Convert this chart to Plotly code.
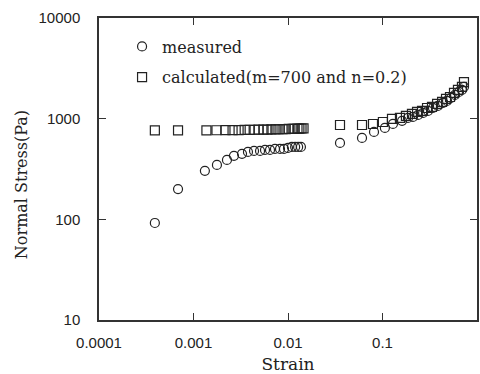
import plotly.graph_objects as go

# measured (circles)
meas_strain = [0.00039, 0.000686, 0.00132, 0.00177, 0.00226, 0.00268, 0.00326, 0.00377,
               0.00437, 0.00506, 0.00571, 0.00645, 0.00728, 0.00823, 0.00907, 0.0100,
               0.0110, 0.0119, 0.0128, 0.0137,
               0.0355, 0.0607, 0.0813, 0.106, 0.129, 0.161, 0.186, 0.210, 0.238, 0.269,
               0.303, 0.342, 0.386, 0.437, 0.482, 0.531, 0.585, 0.645, 0.693, 0.728]
meas_stress = [92, 200, 303, 347, 389, 427, 447, 467,
               478, 478, 489, 489, 500, 500, 500, 512,
               524, 524, 524, 524,
               574, 643, 738, 809, 887, 951, 1017, 1041, 1090, 1141,
               1194, 1277, 1337, 1433, 1500, 1607, 1720, 1842, 1928, 2065]

# calculated (squares)
calc_strain = [0.00039, 0.000686, 0.00137, 0.00175, 0.00218, 0.00259, 0.00300, 0.00348,
               0.00393, 0.00443, 0.00488, 0.00551, 0.00607, 0.00668, 0.00736, 0.00793,
               0.00875, 0.00943, 0.0102, 0.0112, 0.0117, 0.0126, 0.0132, 0.0139, 0.0146,
               0.0355, 0.0607, 0.0793, 0.101, 0.126, 0.153, 0.177, 0.205, 0.232, 0.262,
               0.296, 0.334, 0.378, 0.427, 0.470, 0.518, 0.571, 0.629, 0.693, 0.728]
calc_stress = [765, 765, 765, 767, 768, 770, 771, 773,
               774, 776, 777, 779, 780, 782, 783, 785,
               786, 788, 790, 792, 793, 795, 797, 799, 801,
               865, 865, 885, 927, 993, 1016, 1064, 1115, 1167, 1193,
               1277, 1307, 1400, 1465, 1570, 1641, 1800, 1928, 2065, 2311]

x_ticks = [0.0001, 0.001, 0.01, 0.1, 1]
x_tick_text = ["0.0001", "0.001", "0.01", "0.1", "1"]
y_ticks = [10, 100, 1000, 10000]
y_tick_text = ["10", "100", "1000", "10000"]

ink = "#222222"
fig = go.Figure()
fig.add_trace(go.Scatter(
    x=meas_strain, y=meas_stress, mode="markers", name="measured", legendgroup="a",
    marker=dict(symbol="circle-open", size=9, color=ink, line=dict(width=1.2, color=ink)),
))
fig.add_trace(go.Scatter(
    x=calc_strain, y=calc_stress, mode="markers", name="calculated(m=700 and n=0.2)",
    legendgroup="b",
    marker=dict(symbol="square-open", size=9, color=ink, line=dict(width=1.2, color=ink)),
))

axis_common = dict(
    type="log", showgrid=False, zeroline=False, showline=True, linecolor="#333333",
    linewidth=1.5, mirror="ticks", ticks="inside", ticklen=7, tickwidth=1.2,
    tickcolor="#333333",
    tickfont=dict(family="Liberation Sans, Arial, sans-serif", size=15, color="#222222"),
)

fig.update_xaxes(
    **axis_common, range=[-4, 0], tickmode="array", tickvals=x_ticks, ticktext=x_tick_text,
    ticklabelstandoff=8,
    title=dict(text="Strain", standoff=8,
               font=dict(family="DejaVu Serif, serif", size=17, color="#222222")),
)
fig.update_yaxes(
    **axis_common, range=[1, 4], tickmode="array", tickvals=y_ticks, ticktext=y_tick_text,
    ticklabelstandoff=14,
)

fig.add_annotation(
    text="Normal Stress(Pa)", xref="paper", yref="paper", x=-0.206, y=0.447,
    xanchor="center", yanchor="middle", textangle=-90, showarrow=False,
    font=dict(family="DejaVu Serif, serif", size=16, color="#222222"),
)

fig.update_layout(
    width=480, height=374,
    margin=dict(l=99, r=3, t=18, b=54, autoexpand=False),
    paper_bgcolor="white", plot_bgcolor="white",
    showlegend=True,
    legend=dict(
        x=0.061, y=0.962, xanchor="left", yanchor="top",
        bgcolor="rgba(0,0,0,0)", borderwidth=0,
        font=dict(family="DejaVu Serif, serif", size=16, color="#222222"),
        traceorder="grouped", tracegroupgap=7,
    ),
)

fig.write_html("out.html", config={"displayModeBar": False},
               post_script="document.body.style.margin='0';")
